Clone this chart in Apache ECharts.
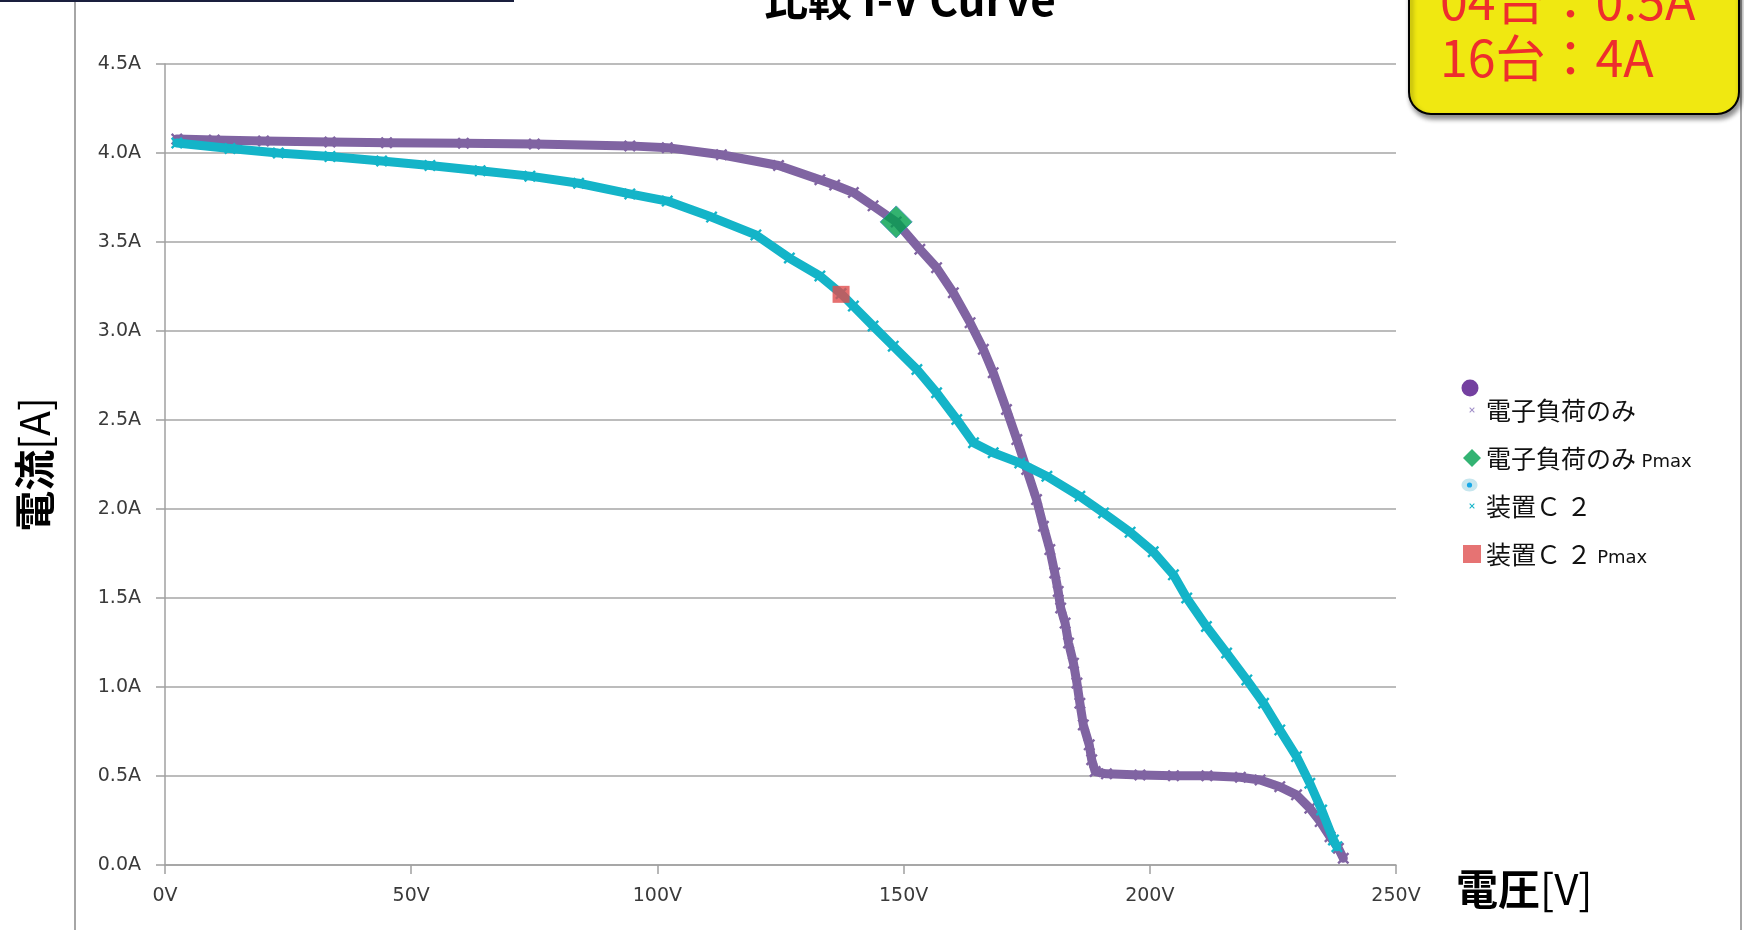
<!DOCTYPE html>
<html><head><meta charset="utf-8">
<script src="https://cdn.jsdelivr.net/npm/echarts@6/dist/echarts.min.js"></script>
<style>html,body{margin:0;padding:0;background:#fff}#c{width:1744px;height:930px}</style>
</head><body><div id="c"></div>
<script>
// ---- data ----
const loadV = [2.4, 10, 20, 33.5, 45, 60.6, 75, 94.4, 102, 113, 124.6, 133, 136, 139.8, 143.8, 148.5, 153.3, 156.7, 160.1, 163.5, 166.2, 168.2, 170.9, 173.0, 175.0, 177.0, 178.4, 179.7, 180.7, 181.4, 181.9, 182.8, 183.5, 184.5, 185.2, 185.8, 186.5, 187.7, 188.2, 188.9, 191.2, 198.0, 204.8, 211.6, 218.4, 222.4, 226.4, 229.8, 232.5, 234.6, 236.6, 238.3, 239.3];
const loadA = [4.078, 4.073, 4.068, 4.062, 4.058, 4.055, 4.050, 4.040, 4.030, 3.990, 3.930, 3.850, 3.820, 3.778, 3.703, 3.613, 3.459, 3.356, 3.215, 3.047, 2.897, 2.766, 2.559, 2.390, 2.222, 2.053, 1.903, 1.772, 1.641, 1.537, 1.444, 1.359, 1.247, 1.134, 1.022, 0.909, 0.787, 0.675, 0.591, 0.525, 0.512, 0.506, 0.502, 0.501, 0.493, 0.478, 0.440, 0.394, 0.319, 0.244, 0.159, 0.094, 0.038];
const devV = [2.4, 13.2, 23, 33.5, 44, 53.8, 64, 74.1, 84, 94.4, 102, 111, 120, 126.8, 133, 137.3, 139.8, 143.8, 147.9, 152.7, 156.7, 160.8, 164.2, 168.2, 173.6, 179.1, 185.8, 190.6, 196.0, 200.7, 204.8, 207.5, 211.5, 215.6, 219.7, 223.1, 226.4, 229.8, 232.5, 234.9, 237.3, 238.0];
const devA = [4.056, 4.025, 4.0, 3.98, 3.955, 3.93, 3.90, 3.87, 3.83, 3.77, 3.73, 3.64, 3.54, 3.41, 3.309, 3.21, 3.14, 3.028, 2.915, 2.784, 2.653, 2.503, 2.372, 2.316, 2.259, 2.184, 2.071, 1.978, 1.870, 1.760, 1.63, 1.50, 1.34, 1.191, 1.04, 0.909, 0.759, 0.609, 0.459, 0.309, 0.141, 0.103];
const loadPmax = [148.5, 3.613];
const devPmax = [137.3, 3.206];
const seriesNames = ['電子負荷のみ', '電子負荷のみ Pmax', '装置Ｃ ２', '装置Ｃ ２ Pmax'];
const xTickLabels = ['0V', '50V', '100V', '150V', '200V', '250V'];
const yTickLabels = ['0.0A', '0.5A', '1.0A', '1.5A', '2.0A', '2.5A', '3.0A', '3.5A', '4.0A', '4.5A'];
const noteLines = ['04台：0.5A', '16台：4A'];
const titleText = '比較 I-V Curve';

const zip = (xs, ys) => xs.map((x, i) => [x, ys[i]]);
const JP = '"Noto Sans CJK JP", sans-serif';
const LAT = '"DejaVu Sans", Verdana, sans-serif';
const PURPLE = '#8064a2', CYAN = '#14b4c8';
const xMark = 'path://M0,1.4L1.4,0L5,3.6L8.6,0L10,1.4L6.4,5L10,8.6L8.6,10L5,6.4L1.4,10L0,8.6L3.6,5Z';
const smallX = 'path://M0,0h0.1v0.1h-0.1Z M19.9,19.9h0.1v0.1h-0.1Z M7,7.8L7.8,7L10,9.2L12.2,7L13,7.8L10.8,10L13,12.2L12.2,13L10,10.8L7.8,13L7,12.2L9.2,10Z';
const axisGray = '#a0a0a0';

const chart = echarts.init(document.getElementById('c'), null, {renderer: 'canvas'});
chart.setOption({
  animation: false,
  backgroundColor: '#ffffff',
  title: {
    text: titleText, left: 905, textAlign: 'center', top: -28,
    textStyle: {fontFamily: JP, fontSize: 44, fontWeight: 'bold', color: '#000'}
  },
  grid: {left: 165, right: 348, top: 64, bottom: 65, containLabel: false},
  legend: {
    orient: 'vertical', left: 1458, top: 392, itemWidth: 18, itemHeight: 18, itemGap: 22,
    selectedMode: false,
    data: [
      {name: seriesNames[0], icon: smallX, itemStyle: {color: '#a08ec8', borderWidth: 0}},
      {name: seriesNames[1], icon: 'diamond', itemStyle: {color: '#00a050', borderWidth: 0}},
      {name: seriesNames[2], icon: smallX, itemStyle: {color: CYAN, borderWidth: 0}},
      {name: seriesNames[3], icon: 'rect', itemStyle: {color: '#e05050', borderWidth: 0}}
    ],
    formatter: function (name) {
      const i = name.indexOf(' Pmax');
      if (i >= 0) return '{j|' + name.slice(0, i) + '} {p|Pmax}';
      return '{j|' + name + '}';
    },
    textStyle: {
      fontFamily: JP, fontSize: 25, color: '#111', lineHeight: 26,
      rich: {
        j: {fontFamily: JP, fontSize: 25, color: '#111', lineHeight: 26},
        p: {fontFamily: LAT, fontSize: 18, color: '#111', lineHeight: 16, verticalAlign: 'bottom'}
      }
    }
  },
  xAxis: {
    type: 'value', min: 0, max: 250, interval: 50,
    axisLine: {show: true, lineStyle: {color: axisGray, width: 1.5}},
    axisTick: {show: true, length: 9, lineStyle: {color: axisGray, width: 1.5}},
    splitLine: {show: false},
    axisLabel: {
      formatter: v => xTickLabels[Math.round(v / 50)],
      fontFamily: LAT, fontSize: 19, color: '#3a3a3a', margin: 22
    },
    name: '{b|電圧}{r|[V]}', nameLocation: 'end', nameGap: 60,
    nameTextStyle: {
      align: 'left', verticalAlign: 'top', padding: [3, 0, 0, 0],
      rich: {
        b: {fontFamily: JP, fontSize: 42, fontWeight: 'bold', color: '#000'},
        r: {fontFamily: JP, fontSize: 42, color: '#000'}
      }
    }
  },
  yAxis: {
    type: 'value', min: 0, max: 4.5, interval: 0.5,
    axisLine: {show: true, lineStyle: {color: axisGray, width: 1.5}},
    axisTick: {show: true, length: 9, lineStyle: {color: axisGray, width: 1.5}},
    splitLine: {show: true, lineStyle: {color: '#a6a6a6', width: 1.5}},
    axisLabel: {
      formatter: v => yTickLabels[Math.round(v / 0.5)],
      fontFamily: LAT, fontSize: 19, color: '#3a3a3a', margin: 24
    },
    name: '{b|電流}{r|[A]}', nameLocation: 'middle', nameGap: 110, nameRotate: 90,
    nameTextStyle: {
      rich: {
        b: {fontFamily: JP, fontSize: 41, fontWeight: 'bold', color: '#000'},
        r: {fontFamily: JP, fontSize: 41, color: '#000'}
      }
    }
  },
  series: [
    {
      name: seriesNames[0], type: 'line', data: zip(loadV, loadA), z: 2,
      symbol: xMark, symbolSize: 12, showAllSymbol: true, silent: true,
      itemStyle: {color: PURPLE},
      lineStyle: {color: PURPLE, width: 9, cap: 'round', join: 'round'}
    },
    {
      name: seriesNames[2], type: 'line', data: zip(devV, devA), z: 3,
      symbol: xMark, symbolSize: 12, showAllSymbol: true, silent: true,
      itemStyle: {color: CYAN},
      lineStyle: {color: CYAN, width: 9, cap: 'round', join: 'round'}
    },
    {
      name: seriesNames[1], type: 'scatter', data: [loadPmax], z: 5,
      symbol: 'diamond', symbolSize: 32, silent: true,
      itemStyle: {color: '#00a04c', borderColor: '#3b8fb5', borderWidth: 1}
    },
    {
      name: seriesNames[3], type: 'scatter', data: [devPmax], z: 5,
      symbol: 'rect', symbolSize: 17, silent: true,
      itemStyle: {color: '#e04c4c'}
    }
  ],
  graphic: [
    {type: 'line', z: 1, shape: {x1: 75, y1: 0, x2: 75, y2: 930}, style: {stroke: '#a6a6a6', lineWidth: 2}},
    {type: 'line', z: 1, shape: {x1: 1741, y1: 0, x2: 1741, y2: 930}, style: {stroke: '#a6a6a6', lineWidth: 2}},
    {type: 'line', z: 1, shape: {x1: 0, y1: 1, x2: 514, y2: 1}, style: {stroke: '#1a1f3d', lineWidth: 2}},
    {type: 'rect', z: 10, shape: {x: 1409, y: -30, width: 330, height: 144, r: 22},
      style: {fill: '#f0e811', stroke: '#000', lineWidth: 2, shadowBlur: 5, shadowOffsetX: 2, shadowOffsetY: 4, shadowColor: 'rgba(0,0,0,0.45)'}},
    {type: 'text', z: 11, style: {text: noteLines[0], x: 1440, y: 1, fontFamily: JP, fontSize: 50, fill: '#ee2d2d', verticalAlign: 'middle', align: 'left'}},
    {type: 'text', z: 11, style: {text: noteLines[1], x: 1440, y: 58, fontFamily: JP, fontSize: 50, fill: '#ee2d2d', verticalAlign: 'middle', align: 'left'}},
    {type: 'circle', z: 10, shape: {cx: 1470, cy: 388, r: 8.5}, style: {fill: '#7440a0'}},
    {type: 'ellipse', z: 10, shape: {cx: 1469.5, cy: 485, rx: 8, ry: 6.5}, style: {fill: '#c6e6ee'}},
    {type: 'circle', z: 11, shape: {cx: 1469.5, cy: 485, r: 2.6}, style: {fill: '#18a8e8'}}
  ]
});
</script>
</body></html>
